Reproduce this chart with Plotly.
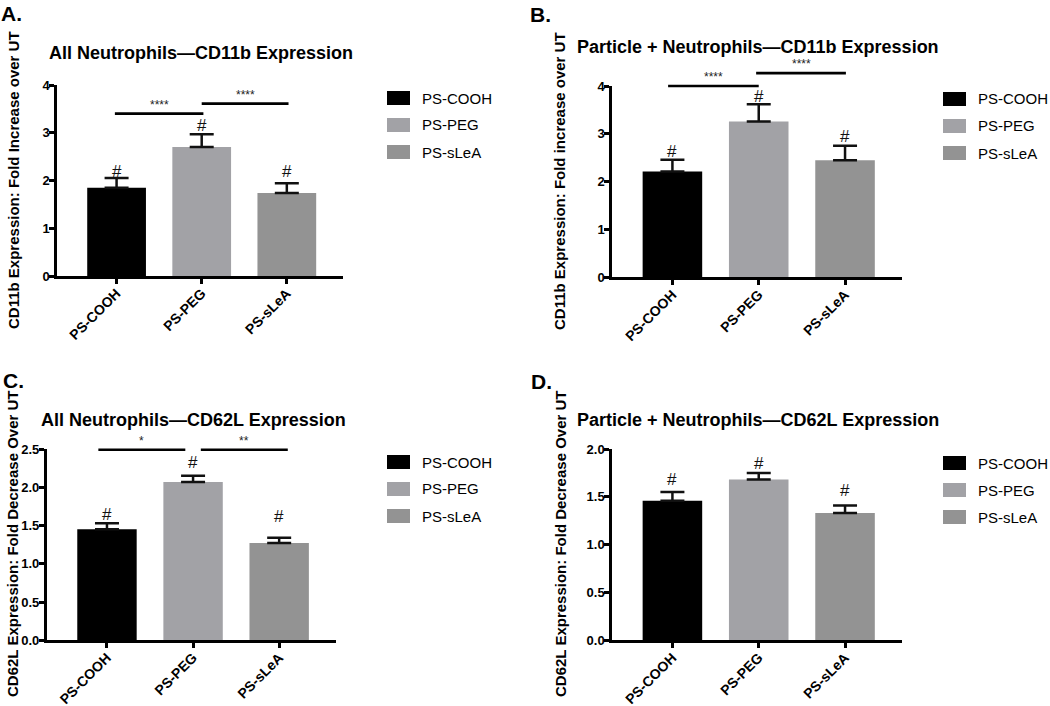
import plotly.graph_objects as go

W, H = 1050, 706

categories = ["PS-COOH", "PS-PEG", "PS-sLeA"]
colors = ["#000000", "#a2a2a6", "#939393"]

# Panel A: All Neutrophils CD11b
a_means = [1.85, 2.70, 1.74]
a_errs = [0.20, 0.27, 0.20]
a_hash = [2.18, 3.16, 2.18]
a_sig = [(-0.02, 1.02, 3.40, "****"), (1.00, 2.02, 3.61, "****")]

# Panel B: Particle + Neutrophils CD11b
b_means = [2.21, 3.26, 2.45]
b_errs = [0.25, 0.36, 0.30]
b_hash = [2.63, 3.79, 2.94]
b_sig = [(-0.05, 1.00, 4.00, "****"), (0.97, 2.01, 4.27, "****")]

# Panel C: All Neutrophils CD62L
c_means = [1.45, 2.07, 1.27]
c_errs = [0.08, 0.08, 0.07]
c_hash = [1.64, 2.32, 1.62]
c_sig = [(-0.10, 0.91, 2.49, "*"), (1.09, 2.10, 2.49, "**")]

# Panel D: Particle + Neutrophils CD62L
d_means = [1.46, 1.68, 1.33]
d_errs = [0.09, 0.07, 0.08]
d_hash = [1.68, 1.85, 1.57]
d_sig = []

panels = [
    dict(key="A", means=a_means, errs=a_errs, hash=a_hash, sig=a_sig, ymax=4, dtick=1, fmt="d",
         title="All Neutrophils\u2014CD11b Expression",
         ytitle="CD11b Expression: Fold Increase over UT",
         xd=(57, 343), yd=(276, 85), ttl=(201, 53), ylab=(13, 180), letter=(11, 0),
         leg=(387, 98)),
    dict(key="B", means=b_means, errs=b_errs, hash=b_hash, sig=b_sig, ymax=4, dtick=1, fmt="d",
         title="Particle + Neutrophils\u2014CD11b Expression",
         ytitle="CD11b Expression: Fold increase over UT",
         xd=(612, 902), yd=(277.3, 86), ttl=(758, 47), ylab=(560, 181), letter=(540, 1),
         leg=(943, 99)),
    dict(key="C", means=c_means, errs=c_errs, hash=c_hash, sig=c_sig, ymax=2.5, dtick=0.5, fmt=".1f",
         title="All Neutrophils\u2014CD62L Expression",
         ytitle="CD62L Expression: Fold Decrease Over UT",
         xd=(46.7, 336), yd=(640.3, 449), ttl=(193, 420), ylab=(12, 544), letter=(13, 367),
         leg=(387, 462)),
    dict(key="D", means=d_means, errs=d_errs, hash=d_hash, sig=d_sig, ymax=2.0, dtick=0.5, fmt=".1f",
         title="Particle + Neutrophils\u2014CD62L Expression",
         ytitle="CD62L Expression: Fold Decrease Over UT",
         xd=(612, 902), yd=(640.3, 449), ttl=(758, 420), ylab=(560, 544), letter=(541, 368),
         leg=(943, 463)),
]

FONT = "Liberation Sans, Arial, sans-serif"
fig = go.Figure()
annotations = []
shapes = []
layout = {}

for i, p in enumerate(panels):
    n = "" if i == 0 else str(i + 1)
    xa, ya = "x" + n, "y" + n
    for j, cat in enumerate(categories):
        fig.add_trace(go.Bar(
            x=[cat], y=[p["means"][j]], name=cat, width=0.69, showlegend=False,
            marker=dict(color=colors[j], line=dict(width=0)),
            error_y=dict(type="data", symmetric=False, array=[p["errs"][j]], arrayminus=[0],
                         color="#111111", thickness=2.5, width=12),
            xaxis=xa, yaxis=ya,
        ))
        annotations.append(dict(x=cat, y=p["hash"][j], xref=xa, yref=ya, text="#",
                                showarrow=False, font=dict(size=17, family=FONT, color="#111")))
        # legend entry (square + label)
        lx, ly = p["leg"][0], p["leg"][1] + 27 * j
        shapes.append(dict(type="rect", xref="paper", yref="paper",
                           x0=lx / W, x1=(lx + 23) / W, y0=1 - (ly - 7) / H, y1=1 - (ly + 7) / H,
                           fillcolor=colors[j], line=dict(width=0)))
        annotations.append(dict(x=(lx + 33) / W, y=1 - ly / H, xref="paper", yref="paper",
                                text=cat, showarrow=False, xanchor="left", yanchor="middle",
                                font=dict(size=15, family=FONT, color="black")))
    for (x0, x1, h, lab) in p["sig"]:
        shapes.append(dict(type="line", xref=xa, yref=ya + " domain", x0=x0, x1=x1,
                           y0=h / p["ymax"], y1=h / p["ymax"], line=dict(color="black", width=2.7)))
        annotations.append(dict(x=(x0 + x1) / 2, y=h / p["ymax"], xref=xa, yref=ya + " domain",
                                text=lab, showarrow=False, yanchor="bottom", yshift=0,
                                font=dict(size=12, family=FONT, color="#222")))
    layout["xaxis" + n] = dict(
        domain=[p["xd"][0] / W, p["xd"][1] / W], anchor=ya, type="category",
        categoryorder="array", categoryarray=categories, range=[-0.7, 2.66],
        showline=True, linecolor="black", linewidth=2.5, ticks="outside", ticklen=5,
        tickwidth=2.5, tickcolor="black", tickangle=-45, showgrid=False, zeroline=False,
        ticklabelstandoff=-4,
        tickfont=dict(size=14, family=FONT, color="black", weight="bold"), automargin=False,
    )
    layout["yaxis" + n] = dict(
        domain=[1 - p["yd"][0] / H, 1 - p["yd"][1] / H], anchor=xa, range=[0, p["ymax"]],
        dtick=p["dtick"], tick0=0, tickformat=p["fmt"], showline=True, linecolor="black",
        linewidth=2.5, ticks="outside", ticklen=5, tickwidth=2.5, tickcolor="black",
        showgrid=False, zeroline=False, automargin=False, ticklabelstandoff=-3,
        tickfont=dict(size=13, family=FONT, color="black", weight="bold"),
    )
    annotations.append(dict(x=p["ttl"][0] / W, y=1 - p["ttl"][1] / H, xref="paper", yref="paper",
                            text=p["title"], showarrow=False, xanchor="center", yanchor="middle",
                            font=dict(size=18, family=FONT, color="black", weight="bold")))
    annotations.append(dict(x=p["ylab"][0] / W, y=1 - p["ylab"][1] / H, xref="paper", yref="paper",
                            text=p["ytitle"], textangle=-90, showarrow=False,
                            xanchor="center", yanchor="middle",
                            font=dict(size=15, family=FONT, color="black", weight="bold")))
    annotations.append(dict(x=p["letter"][0] / W, y=1 - p["letter"][1] / H, xref="paper", yref="paper",
                            text=p["key"] + ".", showarrow=False, xanchor="center", yanchor="top",
                            font=dict(size=21, family=FONT, color="black", weight="bold")))

fig.update_layout(
    width=W, height=H, margin=dict(l=0, r=0, t=0, b=0),
    plot_bgcolor="white", paper_bgcolor="white", showlegend=False,
    annotations=annotations, shapes=shapes, **layout,
)

fig.write_html("out.html", config={"displayModeBar": False},
               post_script="document.body.style.margin='0';document.body.style.padding='0';"
                           "document.body.style.overflow='hidden';")
